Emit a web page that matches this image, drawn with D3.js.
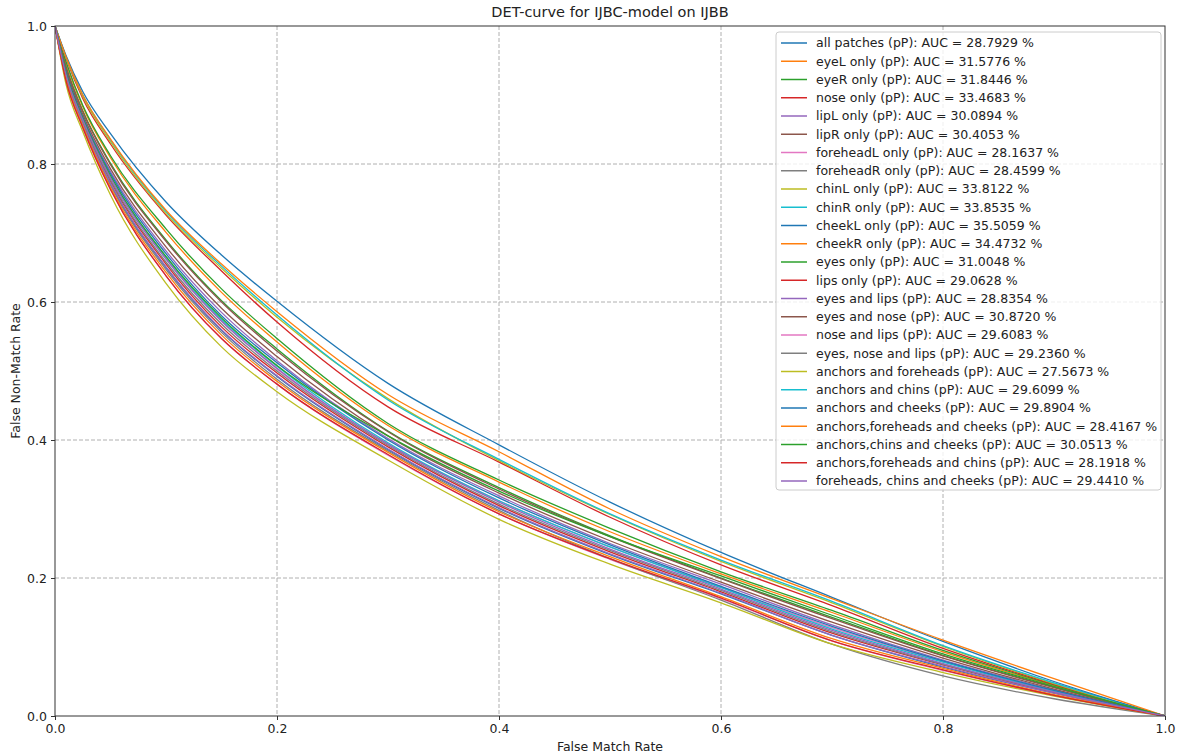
<!DOCTYPE html>
<html><head><meta charset="utf-8">
<script src="https://cdn.jsdelivr.net/npm/d3@7"></script>
<style>
html,body{margin:0;padding:0;background:#fff;}
svg{display:block;font-family:"DejaVu Sans",sans-serif;}
</style></head>
<body><svg id="chart" width="1180" height="755"></svg>
<script>
// ---- data ----
const fmr = [0, 0.01, 0.025, 0.05, 0.1, 0.15, 0.2, 0.3, 0.4, 0.5, 0.6, 0.7, 0.8, 0.9, 1.0];
const xTicks = [0.0, 0.2, 0.4, 0.6, 0.8, 1.0];
const yTicks = [0.0, 0.2, 0.4, 0.6, 0.8, 1.0];

const allPatches   = [1, .924, .858, .771, .650, .559, .492, .386, .301, .234, .177, .117, .071, .033, 0];
const eyeL         = [1, .946, .883, .809, .701, .614, .542, .421, .339, .267, .206, .150, .093, .044, 0];
const eyeR         = [1, .948, .885, .812, .706, .619, .547, .424, .342, .272, .209, .153, .095, .045, 0];
const nose         = [1, .953, .895, .829, .726, .645, .571, .448, .368, .288, .219, .160, .098, .046, 0];
const lipL         = [1, .934, .869, .789, .674, .585, .515, .402, .319, .250, .191, .132, .081, .038, 0];
const lipR         = [1, .937, .872, .793, .680, .591, .521, .406, .323, .254, .194, .136, .084, .039, 0];
const foreheadL    = [1, .920, .852, .763, .638, .547, .481, .378, .293, .227, .170, .109, .066, .030, 0];
const foreheadR    = [1, .923, .857, .769, .647, .556, .488, .384, .298, .228, .168, .104, .058, .025, 0];
const chinL        = [1, .954, .898, .832, .728, .649, .578, .460, .370, .292, .224, .164, .101, .047, 0];
const chinR        = [1, .955, .900, .835, .731, .652, .581, .458, .372, .293, .226, .166, .102, .048, 0];
const cheekL       = [1, .957, .905, .844, .745, .668, .601, .482, .393, .310, .237, .172, .108, .050, 0];
const cheekR       = [1, .955, .900, .836, .733, .655, .586, .466, .383, .300, .231, .170, .110, .054, 0];
const eyesOnly     = [1, .941, .877, .801, .690, .602, .532, .413, .331, .261, .200, .143, .088, .042, 0];
const lipsOnly     = [1, .927, .860, .775, .655, .564, .497, .390, .305, .238, .180, .120, .074, .034, 0];
const eyesLips     = [1, .925, .858, .772, .651, .560, .493, .387, .302, .235, .178, .117, .072, .033, 0];
const eyesNose     = [1, .940, .876, .799, .688, .600, .529, .412, .329, .260, .199, .141, .087, .041, 0];
const noseLips     = [1, .930, .864, .781, .663, .573, .503, .394, .312, .245, .187, .128, .079, .036, 0];
const eyesNoseLips = [1, .928, .862, .777, .658, .568, .500, .392, .307, .240, .182, .122, .075, .035, 0];
const anchFh       = [1, .915, .847, .755, .627, .535, .470, .371, .285, .220, .164, .104, .063, .029, 0];
const anchChins    = [1, .931, .865, .782, .665, .575, .507, .396, .312, .245, .186, .126, .078, .036, 0];
const anchCheeks   = [1, .933, .868, .786, .670, .580, .512, .400, .316, .248, .188, .130, .080, .037, 0];
const anchFhCheeks = [1, .922, .855, .766, .643, .552, .485, .382, .296, .231, .173, .112, .069, .031, 0];
const anchChinsCheeks = [1, .931, .866, .783, .666, .577, .508, .406, .326, .260, .203, .146, .090, .043, 0];
const anchFhChins  = [1, .920, .853, .763, .638, .547, .481, .379, .293, .228, .171, .109, .067, .030, 0];
const fhChinsCheeks = [1, .929, .864, .780, .662, .572, .504, .394, .310, .242, .184, .124, .076, .035, 0];

const names = ["all patches", "eyeL only", "eyeR only", "nose only", "lipL only", "lipR only",
  "foreheadL only", "foreheadR only", "chinL only", "chinR only", "cheekL only", "cheekR only",
  "eyes only", "lips only", "eyes and lips", "eyes and nose", "nose and lips", "eyes, nose and lips",
  "anchors and foreheads", "anchors and chins", "anchors and cheeks", "anchors,foreheads and cheeks",
  "anchors,chins and cheeks", "anchors,foreheads and chins", "foreheads, chins and cheeks"];
const aucs = ["28.7929", "31.5776", "31.8446", "33.4683", "30.0894", "30.4053", "28.1637", "28.4599",
  "33.8122", "33.8535", "35.5059", "34.4732", "31.0048", "29.0628", "28.8354", "30.8720", "29.6083",
  "29.2360", "27.5673", "29.6099", "29.8904", "28.4167", "30.0513", "28.1918", "29.4410"];
const fnmr = [allPatches, eyeL, eyeR, nose, lipL, lipR, foreheadL, foreheadR, chinL, chinR, cheekL, cheekR,
  eyesOnly, lipsOnly, eyesLips, eyesNose, noseLips, eyesNoseLips, anchFh, anchChins, anchCheeks,
  anchFhCheeks, anchChinsCheeks, anchFhChins, fhChinsCheeks];
const palette = ["#1f77b4","#ff7f0e","#2ca02c","#d62728","#9467bd","#8c564b","#e377c2","#7f7f7f","#bcbd22","#17becf"];

// ---- layout ----
const svg = d3.select("#chart");
const L = 55, R = 1165, T = 26, B = 716;
const x = d3.scaleLinear().domain([0, 1]).range([L, R]);
const y = d3.scaleLinear().domain([0, 1]).range([B, T]);

svg.append("defs").append("clipPath").attr("id", "clip")
  .append("rect").attr("x", L).attr("y", T).attr("width", R - L).attr("height", B - T);

// grid
const grid = svg.append("g");
grid.selectAll(".gx").data(xTicks.filter(d => d > 0 && d < 1)).join("line")
  .attr("x1", d => x(d)).attr("x2", d => x(d)).attr("y1", T).attr("y2", B)
  .attr("stroke", "#b0b0b0").attr("stroke-width", 1).attr("stroke-dasharray", "4,2");
grid.selectAll(".gy").data(yTicks.filter(d => d > 0 && d < 1)).join("line")
  .attr("x1", L).attr("x2", R).attr("y1", d => y(d)).attr("y2", d => y(d))
  .attr("stroke", "#b0b0b0").attr("stroke-width", 1).attr("stroke-dasharray", "4,2");

// lines
const line = d3.line().x((d, i) => x(fmr[i])).y(d => y(d)).curve(d3.curveMonotoneX);
const lines = svg.append("g").attr("clip-path", "url(#clip)");
fnmr.forEach((s, i) => {
  lines.append("path").attr("d", line(s)).attr("fill", "none")
    .attr("stroke", palette[i % 10]).attr("stroke-width", 1.3);
});

// axes
const fmt = d3.format(".1f");
const xAxis = svg.append("g").attr("transform", `translate(0,${B})`)
  .call(d3.axisBottom(x).tickValues(xTicks).tickFormat(fmt).tickSize(4).tickPadding(4));
const yAxis = svg.append("g").attr("transform", `translate(${L},0)`)
  .call(d3.axisLeft(y).tickValues(yTicks).tickFormat(fmt).tickSize(4).tickPadding(4));
[xAxis, yAxis].forEach(a => {
  a.select(".domain").remove();
  a.selectAll("text").attr("font-family", "DejaVu Sans").attr("font-size", 12.5).attr("fill", "#222");
  a.selectAll("line").attr("stroke", "#333");
});
// frame
svg.append("rect").attr("x", L).attr("y", T).attr("width", R - L).attr("height", B - T)
  .attr("fill", "none").attr("stroke", "#333").attr("stroke-width", 1);

// labels
svg.append("text").attr("x", (L + R) / 2).attr("y", 17).attr("text-anchor", "middle")
  .attr("font-size", 14.5).attr("fill", "#222").text("DET-curve for IJBC-model on IJBB");
svg.append("text").attr("x", (L + R) / 2).attr("y", 751).attr("text-anchor", "middle")
  .attr("font-size", 12.5).attr("fill", "#222").text("False Match Rate");
svg.append("text").attr("transform", `translate(20,${(T + B) / 2}) rotate(-90)`).attr("text-anchor", "middle")
  .attr("font-size", 12.5).attr("fill", "#222").text("False Non-Match Rate");

// legend
const lg = svg.append("g");
lg.append("rect").attr("x", 776).attr("y", 32).attr("width", 385).attr("height", 458).attr("rx", 3)
  .attr("fill", "#fff").attr("fill-opacity", 0.8).attr("stroke", "#cccccc");
names.forEach((n, i) => {
  const yy = 43 + i * 18.25;
  lg.append("line").attr("x1", 781).attr("x2", 807).attr("y1", yy).attr("y2", yy)
    .attr("stroke", palette[i % 10]).attr("stroke-width", 1.5);
  lg.append("text").attr("x", 816).attr("y", yy).attr("dy", "0.35em")
    .attr("font-size", 12.5).attr("fill", "#222").text(`${n} (pP): AUC = ${aucs[i]} %`);
});
</script></body></html>
